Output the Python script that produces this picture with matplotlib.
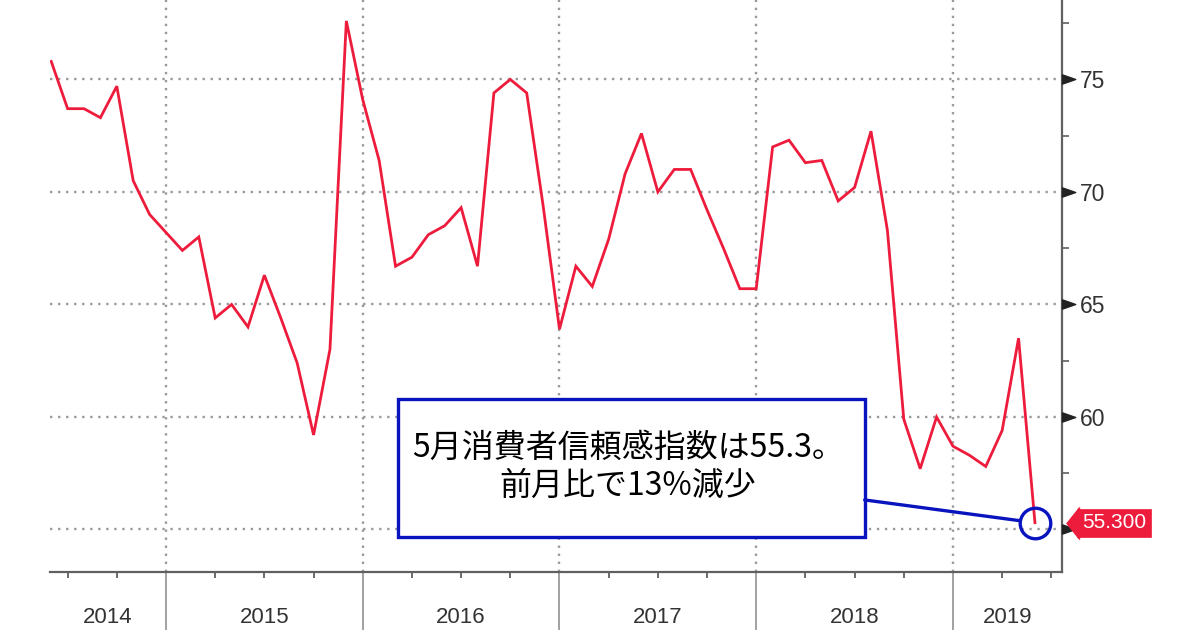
import matplotlib
matplotlib.use('Agg')
import matplotlib.pyplot as plt
import numpy as np
import pandas as pd
from matplotlib.transforms import blended_transform_factory, offset_copy
from matplotlib.patches import Rectangle
from matplotlib.path import Path

plt.rcParams['font.family'] = ['Liberation Sans', 'Noto Sans CJK JP', 'DejaVu Sans']

# ---- data (May 2014 - May 2019, monthly) ----
months = pd.date_range('2014-05-01', periods=61, freq='MS')
values = [75.8, 73.7, 73.7, 73.3, 74.7, 70.5, 69.0, 68.2, 67.4, 68.0,
          64.4, 65.0, 64.0, 66.3, 64.4, 62.4, 59.2, 63.0, 77.6, 74.1,
          71.4, 66.7, 67.1, 68.1, 68.5, 69.3, 66.7, 74.4, 75.0, 74.4,
          69.4, 63.9, 66.7, 65.8, 67.9, 70.8, 72.6, 70.0, 71.0, 71.0,
          69.2, 67.5, 65.7, 65.7, 72.0, 72.3, 71.3, 71.4, 69.6, 70.2,
          72.7, 68.3, 59.9, 57.7, 60.0, 58.7, 58.3, 57.8, 59.4, 63.5,
          55.3]
years = [2014, 2015, 2016, 2017, 2018, 2019]
yticks = [55, 60, 65, 70, 75]
ytick_labels = ['', '60', '65', '70', '75']
yminor = [57.5, 62.5, 67.5, 72.5, 77.5]
note_text = '5月消費者信頼感指数は55.3。\n前月比で13%減少'
last_label = '55.300'

RED = '#EE1C3C'
BLUE = '#0A14BE'
AXC = '#606060'
TXT = '#333333'

# month position: end of month, months counted from Jan 2014
x = np.array((months.year - 2014) * 12 + months.month, dtype=float)

fig = plt.figure(figsize=(12, 6.3), dpi=100)
ax = fig.add_axes([50 / 1200, 58 / 630, 1012 / 1200, 572 / 630])

ax.plot(x, values, color=RED, lw=2.0, zorder=3, solid_joinstyle='miter')

x0, x1 = 4.925, 66.65
ax.set_xlim(x0, x1)
ax.set_ylim(53.11, 78.53)

for s in ['left', 'top']:
    ax.spines[s].set_visible(False)
for s in ['right', 'bottom']:
    ax.spines[s].set_color(AXC)
    ax.spines[s].set_linewidth(1.6)

# y axis on the right
ax.yaxis.tick_right()
ax.set_yticks(yticks)
ax.set_yticklabels(ytick_labels)
ax.set_yticks(yminor, minor=True)
ax.tick_params(axis='y', which='major', length=0, pad=13, labelsize=16.5,
               labelcolor=TXT)
ax.tick_params(axis='y', which='minor', length=5, width=1.2, color=AXC)

bt = blended_transform_factory(ax.transAxes, ax.transData)
tri = Path([(0, -0.35), (1, 0), (0, 0.35), (0, -0.35)],
           [Path.MOVETO, Path.LINETO, Path.LINETO, Path.CLOSEPOLY])
ax.plot([1] * len(yticks), yticks, ls='none', marker=tri, ms=19,
        color='#222222', transform=bt, clip_on=False, zorder=4)

# x axis: year boundaries + quarterly minor ticks
year_starts = [(y - 2014) * 12 for y in years if x0 < (y - 2014) * 12 < x1]
quarters = [q for q in range(0, 72, 3) if x0 < q < x1 and q % 12 != 0]
ax.set_xticks(year_starts)
ax.set_xticklabels([''] * len(year_starts))
ax.set_xticks(quarters, minor=True)
ax.tick_params(axis='x', which='major', length=42, width=1.3,
               color='#9a9a9a', direction='out')
ax.tick_params(axis='x', which='minor', length=4, width=1.3, color=AXC)

ax.grid(True, which='major', color='#9a9a9a', ls=(0, (1, 2.4)), lw=1.7)
ax.set_axisbelow(True)

xt = blended_transform_factory(ax.transData, ax.transAxes)
for y in years:
    a = max((y - 2014) * 12, x0)
    b = min((y - 2014) * 12 + 12, x1)
    ax.text((a + b) / 2, -0.080, str(y), transform=xt, ha='center',
            va='center', fontsize=16, color=TXT, clip_on=False)

# annotation box
ax.add_patch(Rectangle((0.344, 0.0612), 0.461, 0.2412, transform=ax.transAxes,
                       fc='white', ec=BLUE, lw=2.4, zorder=5))
ax.text(0.571, 0.1836, note_text, transform=ax.transAxes, ha='center',
        va='center', multialignment='center', fontsize=23, linespacing=1.22,
        family=['Noto Sans CJK JP', 'DejaVu Sans'], color='black', zorder=6)

ax.annotate('', xy=(x[-1], values[-1]), xycoords='data',
            xytext=(0.805, 0.126), textcoords='axes fraction',
            arrowprops=dict(arrowstyle='-', color=BLUE, lw=2.4,
                            shrinkA=0, shrinkB=11), zorder=5)
ax.plot(x[-1], values[-1], marker='o', ms=22, mfc='none', mec=BLUE,
        mew=2.4, zorder=6, clip_on=False)

# last value tag
ltri = Path([(0, 1), (-0.8, 0), (0, -1), (0, 1)],
            [Path.MOVETO, Path.LINETO, Path.LINETO, Path.CLOSEPOLY])
ax.plot([1], [values[-1]], ls='none', marker=ltri, ms=22.5, color=RED,
        mec=RED, transform=offset_copy(bt, fig=fig, x=16.5, y=0, units='dots'),
        clip_on=False, zorder=7)
ax.text(1, values[-1], last_label, transform=offset_copy(bt, fig=fig, x=20, y=0, units='dots'),
        ha='left', va='center', fontsize=15, color='white', clip_on=False,
        zorder=7, bbox=dict(boxstyle='square,pad=0.22', fc=RED, ec=RED, lw=0.5))

fig.savefig('out.png', dpi=100)
